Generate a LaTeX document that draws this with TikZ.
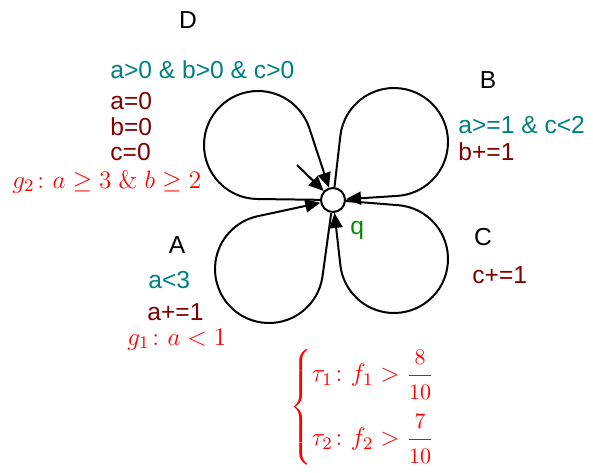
\RequirePackage{fix-cm}
\documentclass[tikz,border=0pt]{standalone}
\usepackage{amsmath}
\usepackage[no-math]{fontspec}
\setmainfont{Liberation Sans}
\usetikzlibrary{arrows.meta,calc}
\definecolor{guardteal}{RGB}{0,128,128}
\definecolor{actbrown}{RGB}{128,0,0}
\definecolor{stgreen}{RGB}{0,140,0}
\newcommand\fracdig[1]{\mbox{\fontsize{11}{13}\selectfont$#1$}}
\begin{document}
\begin{tikzpicture}[x=0.5pt,y=0.5pt,
  lbl/.style={inner sep=0pt,font=\fontsize{12.3}{14}\selectfont},
  mth/.style={inner sep=0pt,text=red,font=\fontsize{12.6}{15}\selectfont},
  edge/.style={line width=1pt,-{Triangle[length=7.5pt,width=6.5pt]}},
  state/.style={circle,draw,line width=1pt,minimum size=12pt,inner sep=0pt,fill=white}]
\useasboundingbox (0,0) rectangle (593,-472);
\node[state] (q) at (333,-200) {};
\node[lbl,anchor=base west,text=stgreen] (qn) at (350,-234) {q};
% bulb centres of the four self-loops
\coordinate (cD) at (258,-145);
\coordinate (cB) at (394,-142);
\coordinate (cC) at (394,-259);
\coordinate (cA) at (269,-269);
% loops
\draw[edge] (q) -- ($(cD)+(269.25:54)$) arc[start angle=269.25, end angle=18.25, radius=54] -- (q);
\draw[edge] (q) -- ($(cB)+(173.46:54)$) arc[start angle=173.46, end angle=-86.34, radius=54] -- (q);
\draw[edge] (q) -- ($(cC)+(85.46:54)$) arc[start angle=85.46, end angle=-173.54, radius=54] -- (q);
\draw[edge] (q) -- ($(cA)+(352.15:54)$) arc[start angle=352.15, end angle=102.15, radius=54] -- (q);
% initial arrow
\coordinate (init) at (297,-165);
\draw[edge] (init) -- (q);
% D
\node[lbl,anchor=base] (D) at (188,-28) {D};
\node[lbl,anchor=base west,text=guardteal] (dg) at (110,-78) {a>0 \& b>0 \& c>0};
\node[lbl,anchor=base west,text=actbrown] (da) at (110,-109) {a=0};
\node[lbl,anchor=base west,text=actbrown] (db) at (110,-135) {b=0};
\node[lbl,anchor=base west,text=actbrown] (dc) at (110,-160) {c=0};
\node[mth,anchor=base west] (g2) at (12,-188) {$g_2\colon a \geq 3 \;\&\; b \geq 2$};
% B
\node[lbl,anchor=base] (B) at (488,-88) {B};
\node[lbl,anchor=base west,text=guardteal] (bg) at (458,-133) {a>=1 \& c<2};
\node[lbl,anchor=base west,text=actbrown] (ba) at (458,-160) {b+=1};
% C
\node[lbl,anchor=base] (C) at (483,-245) {C};
\node[lbl,anchor=base west,text=actbrown] (ca) at (472,-283) {c+=1};
% A
\node[lbl,anchor=base] (A) at (177,-253) {A};
\node[lbl,anchor=base west,text=guardteal] (ag) at (148,-288) {a<3};
\node[lbl,anchor=base west,text=actbrown] (aa) at (147,-320) {a+=1};
\node[mth,anchor=base west] (g1) at (127,-345) {$g_1\colon a < 1$};
% tau
\node[mth,anchor=west] (tau) at (290,-407) {$\begin{cases}\tau_1\colon f_1 > \dfrac{\fracdig{8}}{\fracdig{10}}\\[11pt] \tau_2\colon f_2 > \dfrac{\fracdig{7}}{\fracdig{10}}\end{cases}$};
\end{tikzpicture}
\end{document}
